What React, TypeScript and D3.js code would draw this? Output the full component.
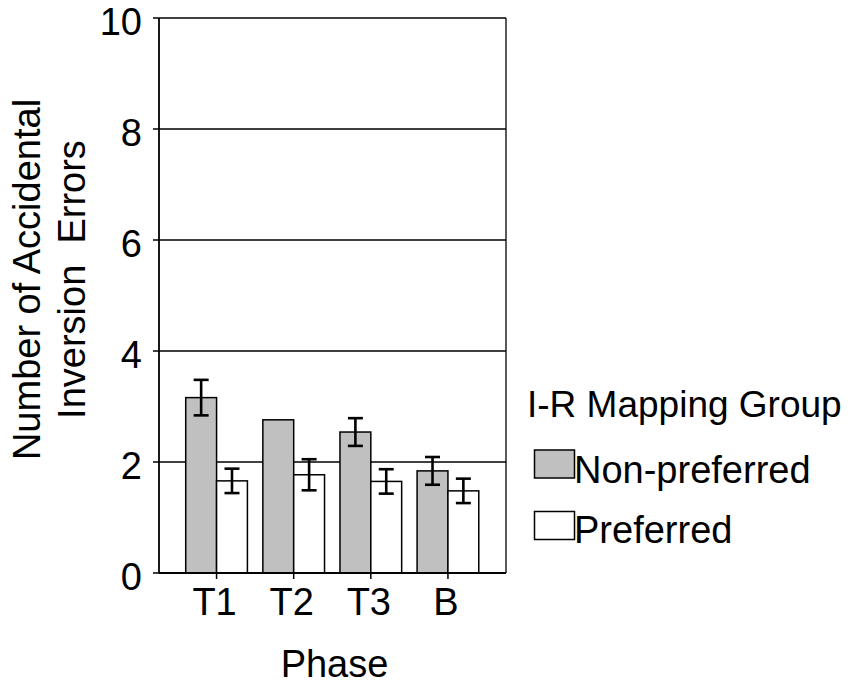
import React from "react";
import * as d3 from "d3";

const categories = ["T1", "T2", "T3", "B"];
const seriesNames = ["Non-preferred", "Preferred"];
const nonPreferred = [3.16, 2.76, 2.54, 1.84];
const nonPreferredErr = [0.32, 0, 0.25, 0.25];
const preferred = [1.66, 1.77, 1.65, 1.48];
const preferredErr = [0.22, 0.28, 0.22, 0.22];
const yTicks = [0, 2, 4, 6, 8, 10];
const yTitleLines = ["Number of Accidental", "Inversion  Errors"];
const xTitle = "Phase";
const legendTitle = "I-R Mapping Group";
const fills = ["#c0c0c0", "#ffffff"];

const W = 848;
const H = 684;
const plot = { left: 159, right: 506, top: 18, bottom: 573 };
const FONT = "Arial, 'Liberation Sans', Helvetica, sans-serif";
const FS = 38;

export default function App() {
  const y = d3.scaleLinear().domain([0, 10]).range([plot.bottom, plot.top]);
  const x = d3.scaleBand<string>().domain(categories).range([178, 486.5]).paddingInner(0).paddingOuter(0);
  const step = x.step();
  const bw = step * 0.4;
  const center = (c: string) => (x(c) as number) + step / 2;

  const series = [
    { vals: nonPreferred, errs: nonPreferredErr, fill: fills[0], off: -bw },
    { vals: preferred, errs: preferredErr, fill: fills[1], off: 0 },
  ];

  return (
    <svg width={W} height={H} style={{ position: "absolute", left: 0, top: 0, background: "#fff" }} fontFamily={FONT}>
      <rect x={0} y={0} width={W} height={H} fill="#fff" />
      {/* gridlines */}
      {yTicks.filter((t) => t > 0).map((t) => (
        <line key={"g" + t} x1={plot.left} x2={plot.right} y1={y(t)} y2={y(t)} stroke="#000" strokeWidth={1.3} />
      ))}
      {/* right border */}
      <line x1={plot.right} x2={plot.right} y1={plot.top} y2={plot.bottom} stroke="#000" strokeWidth={1.3} />
      {/* bars */}
      {series.map((s, si) =>
        categories.map((c, i) => (
          <rect
            key={"b" + si + c}
            x={center(c) + s.off}
            y={y(s.vals[i])}
            width={bw}
            height={y(0) - y(s.vals[i])}
            fill={s.fill}
            stroke="#000"
            strokeWidth={1.5}
          />
        ))
      )}
      {/* error bars */}
      {series.map((s, si) =>
        categories.map((c, i) => {
          if (!s.errs[i]) return null;
          const cx = center(c) + s.off + bw / 2;
          const y1 = y(s.vals[i] + s.errs[i]);
          const y2 = y(s.vals[i] - s.errs[i]);
          return (
            <g key={"e" + si + c} stroke="#000" strokeWidth={2.6}>
              <line x1={cx} x2={cx} y1={y1} y2={y2} />
              <line x1={cx - 7.5} x2={cx + 7.5} y1={y1} y2={y1} />
              <line x1={cx - 7.5} x2={cx + 7.5} y1={y2} y2={y2} />
            </g>
          );
        })
      )}
      {/* axes */}
      <line x1={plot.left} x2={plot.left} y1={plot.top} y2={plot.bottom} stroke="#000" strokeWidth={1.8} />
      <line x1={plot.left} x2={plot.right} y1={plot.bottom} y2={plot.bottom} stroke="#000" strokeWidth={1.8} />
      {yTicks.map((t) => (
        <g key={"yt" + t}>
          <line x1={plot.left - 6} x2={plot.left} y1={y(t)} y2={y(t)} stroke="#000" strokeWidth={1.5} />
          <text x={142} y={y(t) + 17} textAnchor="end" fontSize={FS} fill="#000">
            {t}
          </text>
        </g>
      ))}
      {categories.map((c) => (
        <g key={"xt" + c}>
          <line x1={center(c)} x2={center(c)} y1={plot.bottom} y2={plot.bottom + 6} stroke="#000" strokeWidth={1.5} />
          <text x={center(c) - 2} y={615} textAnchor="middle" fontSize={FS} fill="#000">
            {c}
          </text>
        </g>
      ))}
      {/* axis titles */}
      <text x={334.5} y={677} textAnchor="middle" fontSize={FS} fill="#000">
        {xTitle}
      </text>
      {yTitleLines.map((l, i) => (
        <text
          key={"yl" + i}
          transform={`translate(${40 + i * 45},279.5) rotate(-90)`}
          textAnchor="middle"
          fontSize={FS}
          fill="#000"
          style={{ whiteSpace: "pre" }}
        >
          {l}
        </text>
      ))}
      {/* legend */}
      <text x={527} y={417} fontSize={37} fill="#000">
        {legendTitle}
      </text>
      {seriesNames.map((n, i) => (
        <g key={"lg" + i}>
          <rect x={534.5} y={450 + i * 61.5} width={40} height={28} fill={fills[i]} stroke="#000" strokeWidth={1.5} />
          <text x={574} y={483 + i * 60} fontSize={FS} fill="#000">
            {n}
          </text>
        </g>
      ))}
    </svg>
  );
}
